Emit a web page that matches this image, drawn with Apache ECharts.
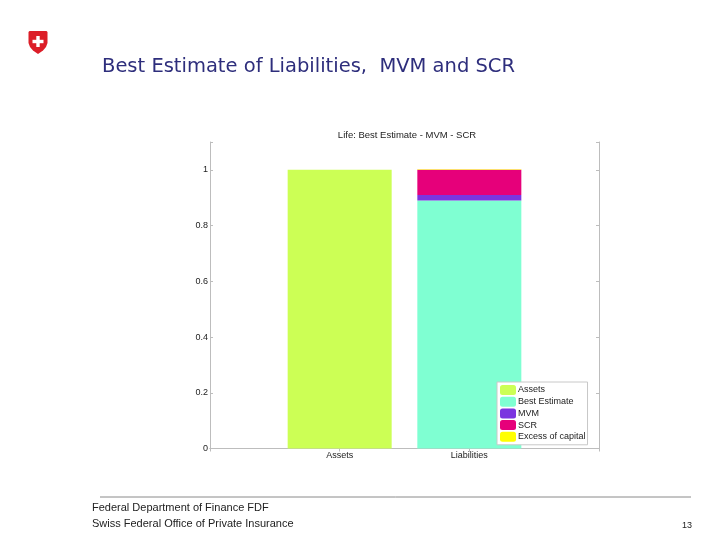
<!DOCTYPE html>
<html><head><meta charset="utf-8">
<style>html,body{margin:0;padding:0;background:#fff}#c{width:720px;height:540px}</style>
<script src="https://cdn.jsdelivr.net/npm/echarts@6/dist/echarts.min.js"></script>
</head><body><div id="c"></div>
<script>
const categories = ['', 'Assets', 'Liabilities', ''];
const yTicks = [0, 0.2, 0.4, 0.6, 0.8, 1];
const seriesNames = ['Assets', 'Best Estimate', 'MVM', 'SCR', 'Excess of capital'];
const assets = [null, 1, null, null];
const bestEstimate = [null, null, 0.89, null];
const mvm = [null, null, 0.02, null];
const scr = [null, null, 0.09, null];
const excess = [null, null, 0.002, null];
const colors = ['#CCFF55', '#7FFFD2', '#7B35E0', '#E6007A', '#FFFF00'];
const seriesValues = [assets, bestEstimate, mvm, scr, excess];

const chart = echarts.init(document.getElementById('c'), null, {renderer: 'canvas'});
const font = 'Liberation Sans';
const axisLine = {show: true, lineStyle: {color: '#bdbdbd', width: 1}};
chart.setOption({
  animation: false,
  backgroundColor: '#fff',
  title: [
    {text: 'Life: Best Estimate - MVM - SCR', left: 402, top: 125, textAlign: 'center',
     textStyle: {fontFamily: font, fontSize: 9.5, fontWeight: 'normal', color: '#222'}}
  ],
  grid: {left: 210, right: 121, top: 142, bottom: 91.5, containLabel: false},
  legend: {
    left: 497, top: 382, orient: 'vertical', itemWidth: 16, itemHeight: 10, itemGap: 1.7,
    padding: [3, 2, 3, 3], backgroundColor: '#fff', borderColor: '#c8c8c8', borderWidth: 1,
    borderRadius: 0, align: 'left', selectedMode: false, data: seriesNames, z: 10,
    textStyle: {fontFamily: font, fontSize: 9, color: '#222', padding: [0, 0, 0, -3]}
  },
  xAxis: [
    {type: 'category', data: categories, boundaryGap: false, position: 'bottom',
     axisLine, axisTick: {show: true, inside: true, length: 3, alignWithLabel: true, lineStyle: {color: '#bdbdbd'}},
     axisLabel: {fontFamily: font, fontSize: 9, color: '#222', margin: 3, interval: 0}},
    {type: 'category', data: categories, boundaryGap: false, position: 'top',
     axisLine, axisTick: {show: true, inside: true, length: 3, lineStyle: {color: '#bdbdbd'}},
     axisLabel: {show: false}}
  ],
  yAxis: [
    {type: 'value', min: 0, max: 1.1, interval: 0.2, position: 'left', splitLine: {show: false},
     axisLine, axisTick: {show: true, inside: true, length: 3, lineStyle: {color: '#bdbdbd'}},
     axisLabel: {fontFamily: font, fontSize: 9, color: '#222', margin: 2,
       formatter: v => yTicks.includes(v) ? String(v) : ''}},
    {type: 'value', min: 0, max: 1.1, interval: 0.2, position: 'right', splitLine: {show: false},
     axisLine, axisTick: {show: true, inside: true, length: 3, lineStyle: {color: '#bdbdbd'}},
     axisLabel: {show: false}}
  ],
  series: seriesNames.map((name, i) => ({
    name, type: 'bar', stack: 'total', barWidth: 104, data: seriesValues[i],
    itemStyle: {color: colors[i]}, z: 3
  })),
  graphic: [
    {type: 'text', x: 102, y: 57, style: {text: 'Best Estimate of Liabilities,  MVM and SCR',
      fontFamily: 'DejaVu Sans', fontSize: 19.5, fill: '#2E2E7C'}},
    {type: 'line', shape: {x1: 100, y1: 497, x2: 691, y2: 497}, style: {stroke: '#8a8a8a', lineWidth: 1}},
    {type: 'text', x: 92, y: 502, style: {text: 'Federal Department of Finance FDF',
      fontFamily: font, fontSize: 11, fill: '#222'}},
    {type: 'text', x: 92, y: 518, style: {text: 'Swiss Federal Office of Private Insurance',
      fontFamily: font, fontSize: 11, fill: '#222'}},
    {type: 'text', x: 682, y: 521, style: {text: '13', fontFamily: font, fontSize: 9, fill: '#222'}},
    {type: 'polygon', shape: {points: [[28.5,32],[29.5,31],[46.5,31],[47.5,32],[47.5,43],[46,47],[43,50.5],[38,54],[33,50.5],[30,47],[28.5,43]]},
      style: {fill: '#DC1E28'}},
    {type: 'rect', shape: {x: 36.3, y: 36, width: 3.4, height: 11}, style: {fill: '#fff'}},
    {type: 'rect', shape: {x: 32.5, y: 39.8, width: 11, height: 3.4}, style: {fill: '#fff'}}
  ]
});
</script></body></html>
